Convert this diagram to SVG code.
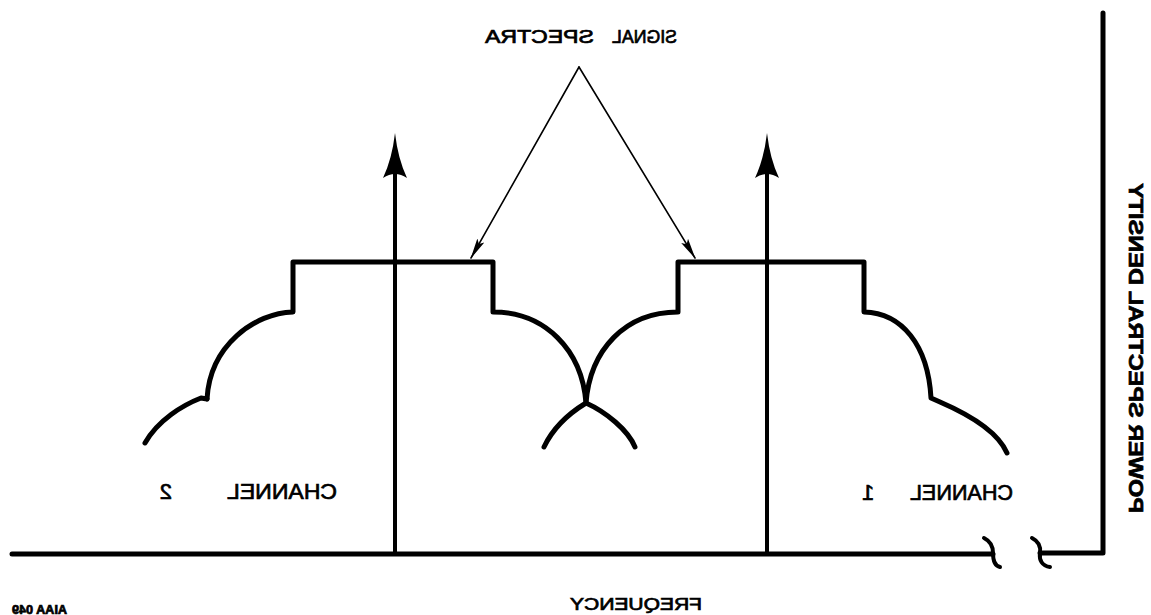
<svg xmlns="http://www.w3.org/2000/svg" width="1151" height="615" viewBox="0 0 1151 615">
<style>
.ln{fill:none;stroke:#000;stroke-linecap:round;stroke-linejoin:round}
.thick{stroke-width:5}
.mid{stroke-width:4}
.thin{stroke-width:1.6}
.t{font-family:"Liberation Sans",Arial,sans-serif;fill:#000;stroke:#000;stroke-width:0.7}
</style>
<defs>
<marker id="ah" markerWidth="22" markerHeight="10" refX="20" refY="5" orient="auto" markerUnits="userSpaceOnUse">
<path d="M0,1 L21,5 L0,9 L4,5 Z" fill="#000"/>
</marker>
<path id="vhead" d="M0,0 Q3,26 12,45 Q6,41 0,41 Q-6,41 -12,45 Q-3,26 0,0 Z" fill="#000"/>
</defs>
<rect width="1151" height="615" fill="#fff"/>

<g id="axes">
<path class="ln thick" d="M12,554 L993,554"/>
<path class="ln mid" d="M984,538 C990,541 993,546 993,553 C993,560 995,566 1000,567"/>
<path class="ln mid" d="M1032,538 C1038,541 1041,546 1040,553 C1039,560 1042,566 1050,567"/>
<path class="ln thick" d="M1040,553 L1103,553 L1103,13"/>
</g>

<g id="channel2">
<path class="ln thick" d="M207,399 C210,345 255,313 293,312 L293,262 L493,262 L493,312 C545,312 582,350 586,403 C606,412 628,430 635,447"/>
<path class="ln thick" d="M207,399 L201,398 C183,405 158,420 145,443"/>
</g>

<g id="channel1">
<path class="ln thick" d="M544,447 C552,430 568,414 586,403 C590,350 625,312 678,312 L678,262 L864,262 L864,312 C902,313 928,345 931,398 L940,402 C970,415 998,432 1007,453"/>
</g>

<g id="carriers">
<path class="ln mid" d="M395,554 L395,170"/>
<use href="#vhead" transform="translate(395,133)"/>
<path class="ln mid" d="M767,554 L767,170"/>
<use href="#vhead" transform="translate(767,133)"/>
</g>

<g id="connectors">
<path class="ln thin" d="M579,67 L471,258" marker-end="url(#ah)"/>
<path class="ln thin" d="M579,67 L695,258" marker-end="url(#ah)"/>
</g>

<g id="labels" transform="matrix(-1 0 0 1 1151 0)">
<text class="t" x="474" y="43" font-size="18" textLength="65" lengthAdjust="spacingAndGlyphs">SIGNAL</text>
<text class="t" x="557" y="43" font-size="18" textLength="109" lengthAdjust="spacingAndGlyphs">SPECTRA</text>
<text class="t" x="814" y="499" font-size="22" textLength="110" lengthAdjust="spacingAndGlyphs">CHANNEL</text>
<text class="t" x="979" y="499" font-size="22">2</text>
<text class="t" x="138" y="500" font-size="22" textLength="103" lengthAdjust="spacingAndGlyphs">CHANNEL</text>
<text class="t" x="283" y="500" font-size="22" text-anchor="middle">1</text>
<text class="t" x="449" y="610" font-size="17" textLength="132" lengthAdjust="spacingAndGlyphs">FREQUENCY</text>
<text class="t" x="1084" y="614" font-size="12" font-weight="bold" textLength="55" lengthAdjust="spacingAndGlyphs">AIAA 049</text>
<text class="t" transform="translate(22,348) rotate(-90)" text-anchor="middle" font-size="20" font-weight="bold" textLength="330" lengthAdjust="spacingAndGlyphs">POWER SPECTRAL DENSITY</text>
</g>
</svg>
